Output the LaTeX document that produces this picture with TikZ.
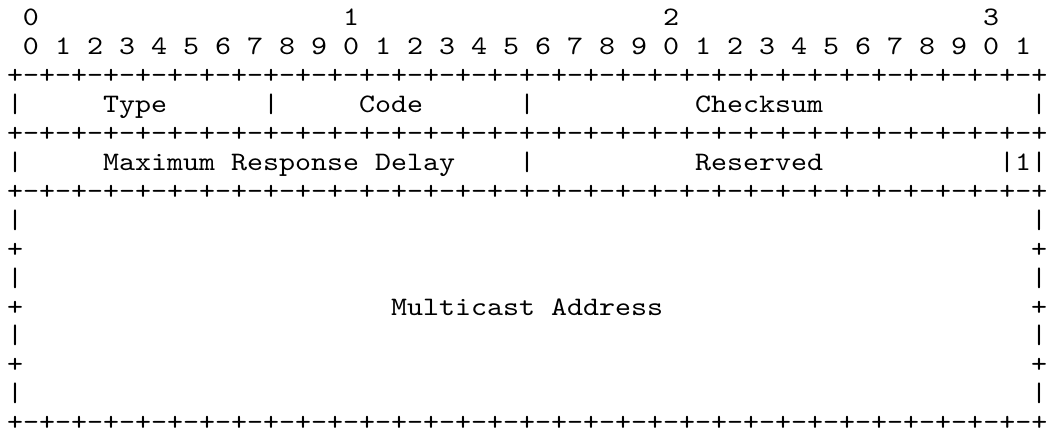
\documentclass[tikz,border=0pt]{standalone}
\usepackage{fontspec}
\newfontfamily\asciifont{lmmono10-regular.otf}[FakeStretch=1.143]

\begin{document}
\begin{tikzpicture}[x=1pt,y=-1pt,
  ch/.style={anchor=base west,inner sep=0pt,outer sep=0pt,
    font=\asciifont\fontsize{26.67}{29}\selectfont},
  rulerow/.style={ch,text depth=0pt}]
  \def\cw{16}
  \def\lh{28.9}
  \def\xo{7}
  \def\yo{26}
  \useasboundingbox (0,0) rectangle (1050,436);
  % Bit numbering, tens above units.
  \foreach \t in {0,...,3} {
    \node[ch] (ten\t) at ({\xo+(1+20*\t)*\cw},\yo) {\t};
  }
  \foreach \k in {0,...,31} {
    \pgfmathtruncatemacro{\u}{mod(\k,10)}
    \node[ch] (bit\k) at ({\xo+(1+2*\k)*\cw},{\yo+\lh}) {\u};
  }
  % Horizontal rules between the words.
  \foreach \r in {2,4,6,14} {
    \node[rulerow] (rule\r) at (\xo,{\yo+\r*\lh}) {+-+-+-+-+-+-+-+-+-+-+-+-+-+-+-+-+-+-+-+-+-+-+-+-+-+-+-+-+-+-+-+-+};
  }
  % Left and right borders.
  \foreach \r/\s in {3/|,5/|,7/|,8/+,9/|,10/+,11/|,12/+,13/|} {
    \node[ch] (left\r) at (\xo,{\yo+\r*\lh}) {\s};
    \node[ch] (right\r) at ({\xo+64*\cw},{\yo+\r*\lh}) {\s};
  }
  % Field separators.
  \node[ch] (sepTC) at ({\xo+16*\cw},{\yo+3*\lh}) {|};
  \node[ch] (sepCC) at ({\xo+32*\cw},{\yo+3*\lh}) {|};
  \node[ch] (sepDR) at ({\xo+32*\cw},{\yo+5*\lh}) {|};
  \node[ch] (sepRF) at ({\xo+62*\cw},{\yo+5*\lh}) {|};
  % Field names.
  \node[ch] (type) at ({\xo+6*\cw},{\yo+3*\lh}) {Type};
  \node[ch] (code) at ({\xo+22*\cw},{\yo+3*\lh}) {Code};
  \node[ch] (checksum) at ({\xo+43*\cw},{\yo+3*\lh}) {Checksum};
  \node[ch] (delay) at ({\xo+6*\cw},{\yo+5*\lh}) {Maximum Response Delay};
  \node[ch] (reserved) at ({\xo+43*\cw},{\yo+5*\lh}) {Reserved};
  \node[ch] (flag) at ({\xo+63*\cw},{\yo+5*\lh}) {1};
  \node[ch] (addr) at ({\xo+24*\cw},{\yo+10*\lh}) {Multicast Address};
\end{tikzpicture}
\end{document}
